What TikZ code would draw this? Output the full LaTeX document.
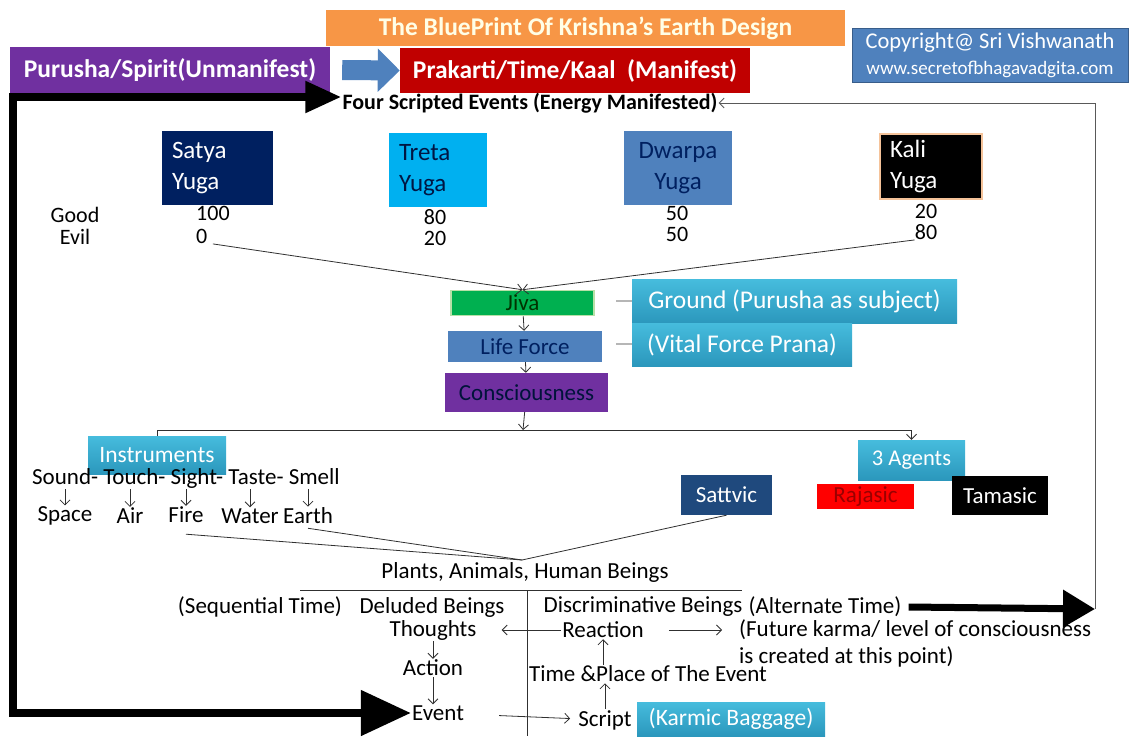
\documentclass[tikz,border=0pt]{standalone}
\usepackage{fontspec}
\setmainfont{Carlito}
\usetikzlibrary{arrows,arrows.meta}

\definecolor{purushaC}{HTML}{7030A0}
\definecolor{kaalC}{HTML}{C00000}
\definecolor{titleC}{HTML}{F79646}
\definecolor{steelC}{HTML}{4F81BD}
\definecolor{steelD}{HTML}{385D8A}
\definecolor{navyC}{HTML}{002060}
\definecolor{skyC}{HTML}{00B0F0}
\definecolor{jivaC}{HTML}{00B050}
\definecolor{jivaD}{HTML}{B8E0A8}
\definecolor{tealT}{HTML}{46BCDD}
\definecolor{tealB}{HTML}{2B97BC}
\definecolor{sattvaC}{HTML}{1F497D}
\definecolor{kaliD}{HTML}{F5C39A}
\definecolor{wireC}{HTML}{303030}

\begin{document}
\begin{tikzpicture}[x=1pt,y=-1pt,>={Straight Barb[length=5pt,width=10pt]},
  lbl/.style={inner sep=1pt,font=\fontsize{23}{25}\selectfont},
  band/.style={inner sep=0pt,font=\bfseries\fontsize{25.5}{28}\selectfont,text=white},
  yuga/.style={inner sep=0pt,inner xsep=10pt,align=left,font=\fontsize{25}{31}\selectfont},
  tag/.style={inner sep=0pt,font=\fontsize{25.5}{28}\selectfont,text=white,top color=tealT,bottom color=tealB},
  chip/.style={inner sep=0pt,font=\fontsize{23}{25}\selectfont},
  num/.style={inner sep=0pt,align=center,font=\fontsize{22}{21}\selectfont},
  fat/.style={line width=8pt,black},
  wire/.style={wireC,line width=0.8pt}]
\useasboundingbox (0,0) rectangle (1132,736);
% header
\node[band,fill=titleC,text=white!90!yellow,minimum width=519pt,minimum height=36pt] (title) at (585.5,28) {The BluePrint Of Krishna’s Earth Design};
\node[band,fill=purushaC,minimum width=320pt,minimum height=46pt] (purusha) at (170,70) {Purusha/Spirit(Unmanifest)};
\node[band,fill=kaalC,minimum width=350pt,minimum height=45pt] (kaal) at (575,70.5) {Prakarti/Time/Kaal\ \ (Manifest)};
\draw[steelC,line width=20pt,-{Triangle[length=22pt,width=42pt]}] ([xshift=12pt]purusha.east) -- (kaal.west);
\node[fill=steelC,draw=steelD,line width=1pt,minimum width=276pt,minimum height=54pt,align=center,text=white,inner sep=0pt,font=\fontsize{22.5}{26}\selectfont] (copy) at (990,55) {Copyright@ Sri Vishwanath\\{\fontsize{19}{20}\selectfont www.secretofbhagavadgita.com}};
\node[inner sep=1pt,font=\bfseries\fontsize{22}{24}\selectfont] (events) at (530,103) {Four Scripted Events (Energy Manifested)};

% the four yugas
\node[yuga,fill=navyC,text=white,minimum width=111pt,minimum height=74pt,text width=91pt] (satya) at (217.5,168) {Satya\\Yuga};
\node[yuga,fill=skyC,text=navyC!70!black,minimum width=98pt,minimum height=74pt,text width=78pt] (treta) at (438,170) {Treta\\Yuga};
\node[yuga,fill=steelC,text=navyC,minimum width=108pt,minimum height=74pt,text width=88pt,align=center] (dwarpa) at (678,168) {Dwarpa\\Yuga};
\node[yuga,fill=black,draw=kaliD,line width=2pt,text=white,minimum width=102pt,minimum height=65pt,text width=82pt] (kali) at (931,166.5) {Kali\\Yuga};
\node[num,font=\fontsize{22}{22}\selectfont] (scale) at (75,226) {Good\\Evil};
\node[num,align=left,anchor=west,font=\fontsize{22}{23}\selectfont] (satyaval) at (196,225) {100\\0};
\node[num] (tretaval) at (435,228) {80\\20};
\node[num] (dwarpaval) at (677,224) {50\\50};
\node[num] (kalival) at (926,222) {20\\80};

% jiva column
\node[chip,fill=jivaC,draw=jivaD,line width=1.5pt,minimum width=143pt,minimum height=25pt,text=black!80!green] (jiva) at (522.5,303) {Jiva};
\node[chip,fill=steelC,minimum width=154pt,minimum height=31pt,text=navyC] (prana) at (525,346.5) {Life Force};
\node[chip,fill=purushaC,minimum width=163pt,minimum height=39pt,text=navyC!60!black] (chit) at (526.5,392.5) {Consciousness};
\node[tag,minimum width=325pt,minimum height=44pt] (ground) at (794.5,301.5) {Ground (Purusha as subject)};
\node[tag,minimum width=220pt,minimum height=43pt] (vital) at (742,344.5) {(Vital Force Prana)};
\coordinate (g0) at (616,301);
\coordinate (v0) at (616,344);
\path[->,wire]
(satyaval.south) edge (jiva.north)
(kalival.south west) edge (jiva.north)
(jiva) edge (prana)
(prana) edge (chit);
\path[wire] (g0) edge (ground) (v0) edge (vital);

% instruments and agents
\coordinate (fork) at (523,430);
\node[tag,minimum width=138pt,minimum height=38pt,font=\fontsize{23.5}{25}\selectfont] (instr) at (157,455) {Instruments};
\node[tag,minimum width=107pt,minimum height=40pt,font=\fontsize{22.5}{25}\selectfont] (agents) at (911.5,460) {3 Agents};
\draw[->,wire] (chit) -- (fork);
\draw[wire] (instr.north) |- (fork);
\draw[->,wire] (fork) -| (agents.north);
\node[chip,fill=sattvaC,text=white,minimum width=91pt,minimum height=40pt] (sattvic) at (726.5,495) {Sattvic};
\node[chip,fill=red,text=kaalC!80!black,minimum width=97pt,minimum height=25pt] (rajasic) at (865.5,496.5) {Rajasic};
\node[chip,fill=black,text=white,minimum width=96pt,minimum height=39pt] (tamasic) at (1000,495.5) {Tamasic};
\node[lbl] (senses) at (186,478) {Sound- Touch- Sight- Taste- Smell};
\node[lbl] (space) at (65,516) {Space};
\node[lbl] (air) at (130,516) {Air};
\node[lbl] (fire) at (186,515) {Fire};
\node[lbl] (water) at (250,516) {Water};
\node[lbl] (earth) at (308,516) {Earth};
\path[->,wire]
(space.north |- senses.south) edge (space.north)
(air.north |- senses.south) edge (air.north)
(fire.north |- senses.south) edge (fire.north)
(water.north |- senses.south) edge (water.north)
(earth.north |- senses.south) edge (earth.north);

% beings
\coordinate (meet) at (522,560);
\node[lbl] (beings) at (525,572) {Plants, Animals, Human Beings};
\path[wire]
([yshift=-10pt]fire.south) edge (meet)
([yshift=-3pt]earth.south) edge (meet)
(sattvic.south) edge (meet);
\draw[wire] (300,590) -- (742,590) (527,590) -- (527,736);
\node[lbl] (seqt) at (260,607) {(Sequential Time)};
\node[lbl] (deluded) at (432,607) {Deluded Beings};
\node[lbl] (discrim) at (643,607) {Discriminative Beings};
\node[lbl] (altt) at (825,607) {(Alternate Time)};
\node[lbl] (thoughts) at (433,630) {Thoughts};
\node[lbl] (reaction) at (603,630) {Reaction};
\node[lbl,anchor=west,align=left,font=\fontsize{23}{27}\selectfont] (karma) at (738,643) {(Future karma/ level of consciousness\\is created at this point)};
\node[lbl] (action) at (433,668) {Action};
\node[lbl] (event) at (438,713) {Event};
\node[lbl] (tplace) at (648,674) {Time \&Place of The Event};
\node[lbl] (script) at (605,720) {Script};
\node[tag,minimum width=188pt,minimum height=34pt,font=\fontsize{23.5}{25}\selectfont] (baggage) at (731,719) {(Karmic Baggage)};
\path[->,wire]
(reaction) edge[shorten >=24pt] (thoughts)
(reaction) edge[shorten <=24pt,shorten >=16pt] (karma.west |- reaction)
(thoughts.south) edge (thoughts.south |- action.north)
(action.south) edge (action.south |- event.north)
(event) edge[shorten <=34pt,shorten >=7pt] (script)
(script.north) edge (script.north |- tplace.south)
(reaction.south |- tplace.north) edge (reaction.south);

% the big loop
\coordinate (rail) at (13,400);
\coordinate (bend) at (1095,609);
\draw[fat,{Triangle[length=36pt,width=30pt]}-{Triangle[length=50pt,width=44pt]}] ([yshift=6pt]events.west) -| (rail) |- (event.west);
\draw[fat,line width=7pt,-{Triangle[length=32pt,width=36pt]}] ([xshift=6pt]altt.east) -- (bend);
\draw[->,wire,gray!70!black] (bend) |- (events.east);
\end{tikzpicture}
\end{document}
